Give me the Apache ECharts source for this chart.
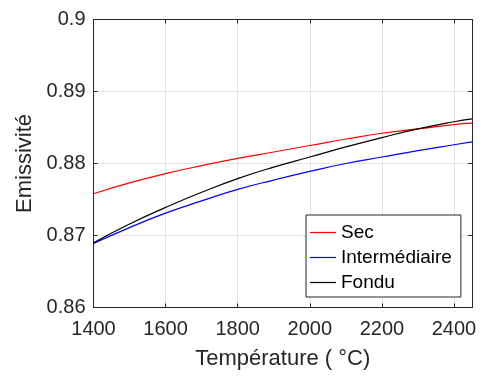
<!DOCTYPE html>
<html><head><meta charset="utf-8">
<script src="https://cdn.jsdelivr.net/npm/echarts@6/dist/echarts.min.js"></script>
<style>html,body{margin:0;padding:0;background:#fff}#c{width:483px;height:379px}</style>
</head><body><div id="c"></div>
<script>
const temps = [1400, 1500, 1600, 1700, 1800, 1900, 2000, 2100, 2200, 2300, 2400, 2450];
const sec = [0.8758, 0.8773, 0.8786, 0.8797, 0.8807, 0.8816, 0.8825, 0.8834, 0.8842, 0.8848, 0.8854, 0.8856];
const intermediaire = [0.8689, 0.8711, 0.8731, 0.8748, 0.8764, 0.8777, 0.8789, 0.8800, 0.8809, 0.8818, 0.8826, 0.8830];
const fondu = [0.8690, 0.8716, 0.8739, 0.8760, 0.8779, 0.8795, 0.8809, 0.8823, 0.8836, 0.8848, 0.8858, 0.8862];
const seriesNames = ['Sec', 'Intermédiaire', 'Fondu'];
const seriesColors = ['#ff0000', '#0000ff', '#000000'];
const seriesValues = [sec, intermediaire, fondu];

const FONT = 'Liberation Sans';
const TXT = '#262626';
const chart = echarts.init(document.getElementById('c'), null, {renderer: 'canvas'});
const axisCommon = {
  axisLine: {show: true, lineStyle: {color: TXT, width: 1}},
  axisTick: {show: true, inside: true, length: 4, lineStyle: {color: TXT}},
};
chart.setOption({
  animation: false,
  backgroundColor: '#fff',
  grid: {left: 93.5, right: 11, top: 19.5, bottom: 71.5, containLabel: false},
  legend: {
    orient: 'vertical', left: 306, top: 215,
    data: seriesNames, icon: 'rect', itemWidth: 26, itemHeight: 1.2, itemGap: 6,
    padding: [8, 9, 5, 4],
    backgroundColor: '#fff', borderColor: TXT, borderWidth: 1,
    textStyle: {fontFamily: FONT, fontSize: 19, color: '#000', lineHeight: 19}
  },
  xAxis: [{
    type: 'value', min: 1400, max: 2450, interval: 200,
    name: 'Température ( °C)', nameLocation: 'middle', nameGap: 40,
    nameTextStyle: {fontFamily: FONT, fontSize: 22, color: TXT},
    ...axisCommon,
    axisLabel: {fontFamily: FONT, fontSize: 20, color: TXT, margin: 12, showMaxLabel: false,
      formatter: v => (v % 200 === 0 ? String(v) : '')},
    splitLine: {show: true, lineStyle: {color: '#e3e3e3', width: 1}}
  }, {
    type: 'value', position: 'top', min: 1400, max: 2450, interval: 200,
    ...axisCommon, axisLabel: {show: false}, splitLine: {show: false}
  }],
  yAxis: [{
    type: 'value', min: 0.86, max: 0.9, interval: 0.01,
    name: 'Emissivité', nameLocation: 'middle', nameGap: 54,
    nameTextStyle: {fontFamily: FONT, fontSize: 22, color: TXT},
    ...axisCommon,
    axisLabel: {fontFamily: FONT, fontSize: 20, color: TXT, margin: 8,
      formatter: v => String(parseFloat(v.toFixed(2)))},
    splitLine: {show: true, lineStyle: {color: '#e3e3e3', width: 1}}
  }, {
    type: 'value', position: 'right', min: 0.86, max: 0.9, interval: 0.01,
    ...axisCommon, axisLabel: {show: false}, splitLine: {show: false}
  }],
  series: seriesNames.map((n, i) => ({
    name: n, type: 'line', smooth: true, showSymbol: false, symbol: 'none',
    color: seriesColors[i],
    lineStyle: {color: seriesColors[i], width: 1.2},
    data: temps.map((t, j) => [t, seriesValues[i][j]])
  }))
});
</script></body></html>
